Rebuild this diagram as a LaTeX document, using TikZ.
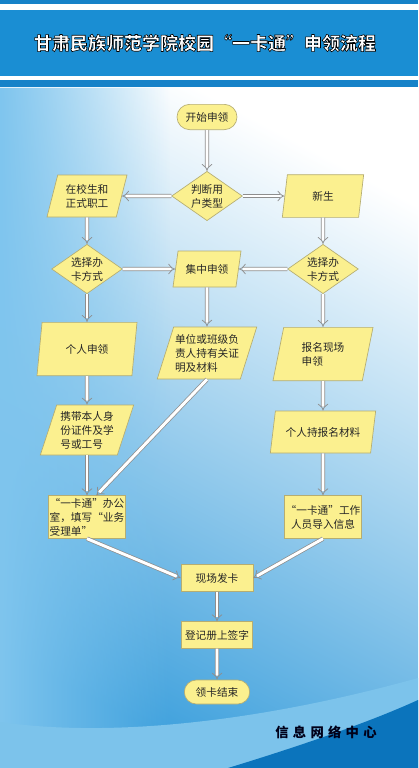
\documentclass[tikz,border=0pt]{standalone}
\usepackage{fontspec}
\usepackage{xcolor}
\usepackage{tikz}
\usetikzlibrary{arrows.meta,positioning,shapes.geometric,shapes.misc,fadings}
\newfontfamily\cjk{Noto Sans CJK SC}
% outlined text for the banner title
\newcommand{\outlined}[1]{\special{pdf:literal direct 0 G 0.45 w 2 Tr}#1\special{pdf:literal direct 0 Tr}}

\definecolor{bannerblue}{HTML}{1A8ED3}
\definecolor{stripblue}{HTML}{1682C8}
\definecolor{skylow}{HTML}{3FA1DD}
\definecolor{skyleft}{HTML}{7FC5EE}
\definecolor{bandblue}{HTML}{7CC3EB}
\definecolor{deepblue}{HTML}{0B74BC}
\definecolor{boxfill}{HTML}{FBF08F}
\definecolor{boxline}{HTML}{B5AD72}
\definecolor{arrowgray}{HTML}{8E8E8E}

\begin{document}
\begin{tikzpicture}[
  x=0.75pt, y=-0.75pt,
  node distance=40pt, on grid,
  base/.style={draw=boxline, fill=boxfill, line width=0.5pt, inner sep=1pt,
    font=\cjk\fontsize{8}{10.5}\selectfont, text=black!85},
  terminal/.style={base, rounded rectangle, minimum width=#1, minimum height=19pt},
  choice/.style={base, diamond, aspect=1.45, inner sep=0pt,
    minimum width=53pt, minimum height=37pt, align=center},
  iobox/.style={base, trapezium, trapezium left angle=68,
    trapezium right angle=112, trapezium stretches body,
    minimum width=#1},
  procbox/.style={base, rectangle, minimum width=#1, minimum height=20pt},
  arrow/.style={draw=arrowgray, line width=0.55pt, double=white,
    double distance=2.2pt, -{Implies}}
]
  \useasboundingbox (0,0) rectangle (418,768);

  % background
  \shade[top color=white, bottom color=skylow, shading angle=-28]
    (0,87) rectangle (418,768);
  \fill[skyleft, path fading=east] (0,87) rectangle (170,768);
  \fill[bandblue] (0,722) .. controls (110,738) and (260,722) .. (418,678)
    -- (418,768) -- (0,768) -- cycle;
  \fill[deepblue] (228,768) .. controls (300,746) and (370,722) .. (418,700)
    -- (418,768) -- cycle;

  % header
  \fill[stripblue] (0,0) rectangle (418,4);
  \fill[bannerblue] (0,10) rectangle (418,76);
  \fill[stripblue] (0,80) rectangle (418,87);
  \node[font=\cjk\bfseries\fontsize{13.5}{16}\selectfont, text=white]
    (title) at (205,43) {\outlined{甘肃民族师范学院校园“一卡通”申领流程}};

  % flow
  \node[terminal=47pt] (start) at (207,117) {开始申领};
  \node[choice, below=59.25pt of start] (judge) {判断用\\户类型};
  \node[iobox=60pt, minimum height=31.5pt, align=center, left=90pt of judge]
    (staff) {在校生和\\正式职工};
  \node[iobox=61pt, minimum height=32pt, right=87pt of judge] (fresh) {新生};

  \node[choice, below=54.75pt of staff] (selL) {选择办\\卡方式};
  \node[iobox=51pt, minimum height=27pt, below=54.75pt of judge] (central) {集中申领};
  \node[choice, below=54.75pt of fresh] (selR) {选择办\\卡方式};

  \node[iobox=75pt, minimum height=40pt, below=60pt of selL] (personal) {个人申领};
  \node[iobox=74pt, minimum height=39pt, align=left, below=63pt of central]
    (unit) {单位或班级负\\责人持有关证\\明及材料};
  \node[iobox=75pt, minimum height=40pt, align=left, below=63.75pt of selR]
    (signup) {报名现场\\申领};

  \node[iobox=70pt, minimum height=37.5pt, align=left, below=60.75pt of personal]
    (carry) {携带本人身\\份证件及学\\号或工号};
  \node[iobox=79pt, minimum height=31.5pt, below=58.5pt of signup]
    (material) {个人持报名材料};

  \node[procbox=53pt, minimum height=32pt, align=left, below=65.25pt of carry]
    (office) {“一卡通”办公\\室，填写“业务\\受理单”};
  \node[procbox=54pt, minimum height=32pt, align=center, below=63.75pt of material]
    (worker) {“一卡通”工作\\人员导入信息};

  \node[procbox=54pt, below right=45.75pt and 97.5pt of office] (issue) {现场发卡};
  \node[procbox=53pt, below=42.75pt of issue] (register) {登记册上签字};
  \node[terminal=51pt, minimum height=18pt, below=42.75pt of register] (finish) {领卡结束};

  \node[font=\cjk\bfseries\fontsize{10}{12}\selectfont\addfontfeature{LetterSpace=32},
    text=black!90!blue] (footer) at (326,732) {信息网络中心};

  \draw[arrow] (start) -- (judge);
  \draw[arrow] (judge) -- (staff);
  \draw[arrow] (judge) -- (fresh);
  \draw[arrow] (staff) -- (selL);
  \draw[arrow] (fresh) -- (selR);
  \draw[arrow] (selL) -- (central);
  \draw[arrow] (selR) -- (central);
  \draw[arrow] (selL) -- (personal);
  \draw[arrow] (central) -- (unit);
  \draw[arrow] (selR) -- (signup);
  \draw[arrow] (personal) -- (carry);
  \draw[arrow] (signup) -- (material);
  \draw[arrow] (carry) -- (office);
  \draw[arrow] (unit.south) -- ([xshift=7pt]office.north);
  \draw[arrow] (material) -- (worker);
  \draw[arrow] (office.south) -- (issue.west);
  \draw[arrow] (worker.south) -- (issue.east);
  \draw[arrow] (issue) -- (register);
  \draw[arrow] (register) -- (finish);
\end{tikzpicture}
\end{document}
